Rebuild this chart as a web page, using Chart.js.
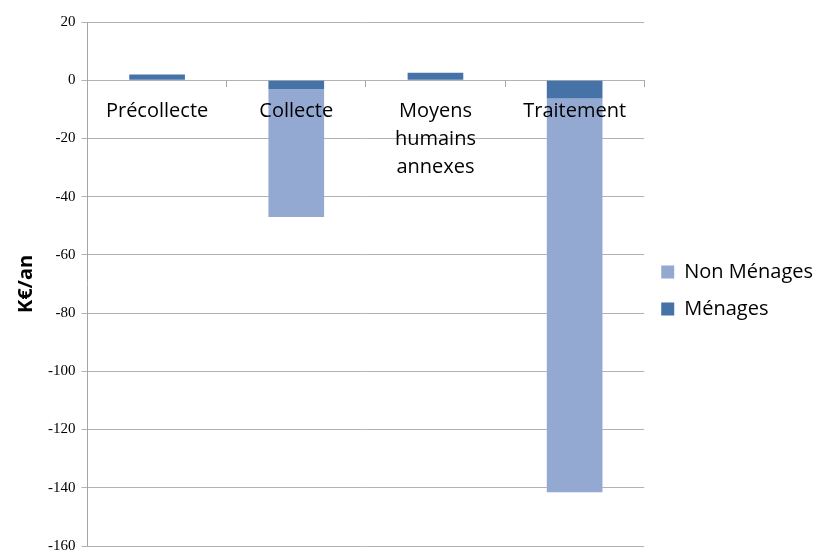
<!DOCTYPE html>
<html><head><meta charset="utf-8">
<script src="https://cdn.jsdelivr.net/npm/chart.js@4"></script>
<style>html,body{margin:0;padding:0;background:#fff;overflow:hidden}#wrap{width:823px;height:561px}</style>
</head><body><div id="wrap"><canvas id="c" width="823" height="561"></canvas></div>
<script>
const categories = ["Précollecte", "Collecte", ["Moyens", "humains", "annexes"], "Traitement"];
const menages = [2, -3.1, 2.6, -6.3];
const nonMenages = [0, -43.9, 0, -135.2];
const yTicks = [20, 0, -20, -40, -60, -80, -100, -120, -140, -160];

new Chart(document.getElementById('c'), {
  type: 'bar',
  data: {
    labels: categories,
    datasets: [
      { label: 'Ménages', data: menages, backgroundColor: '#4572A7', barPercentage: 0.4, categoryPercentage: 1 },
      { label: 'Non Ménages', data: nonMenages, backgroundColor: '#94A9D1', barPercentage: 0.4, categoryPercentage: 1 }
    ]
  },
  options: {
    responsive: false,
    animation: false,
    layout: { padding: { top: 22, bottom: 2, left: 10, right: 0 } },
    plugins: {
      tooltip: { enabled: false },
      legend: {
        position: 'right',
        reverse: true,
        labels: { boxWidth: 13, boxHeight: 13, padding: 17, color: '#000', font: { family: 'Open Sans', size: 20 } }
      }
    },
    scales: {
      x: {
        stacked: true,
        position: { y: 0 },
        grid: { display: true, drawOnChartArea: false, drawTicks: true, tickLength: 7, color: '#a6a6a6', offset: true, z: 1 },
        border: { display: false },
        ticks: { z: 1, color: '#000', padding: 10, font: { family: 'Open Sans', size: 20, lineHeight: 1.4 }, maxRotation: 0, autoSkip: false }
      },
      y: {
        stacked: true,
        min: -160, max: 20,
        afterBuildTicks: (s) => { s.ticks = yTicks.map(v => ({ value: v })); },
        grid: { color: '#b3b3b3', tickLength: 6 },
        border: { color: '#a6a6a6' },
        title: { display: true, text: 'K€/an', color: '#000', font: { family: 'Open Sans', size: 20, weight: 'bold' } },
        ticks: { color: '#000', font: { family: 'Liberation Sans Narrow', size: 15 }, padding: 6 }
      }
    }
  }
});
</script></body></html>
